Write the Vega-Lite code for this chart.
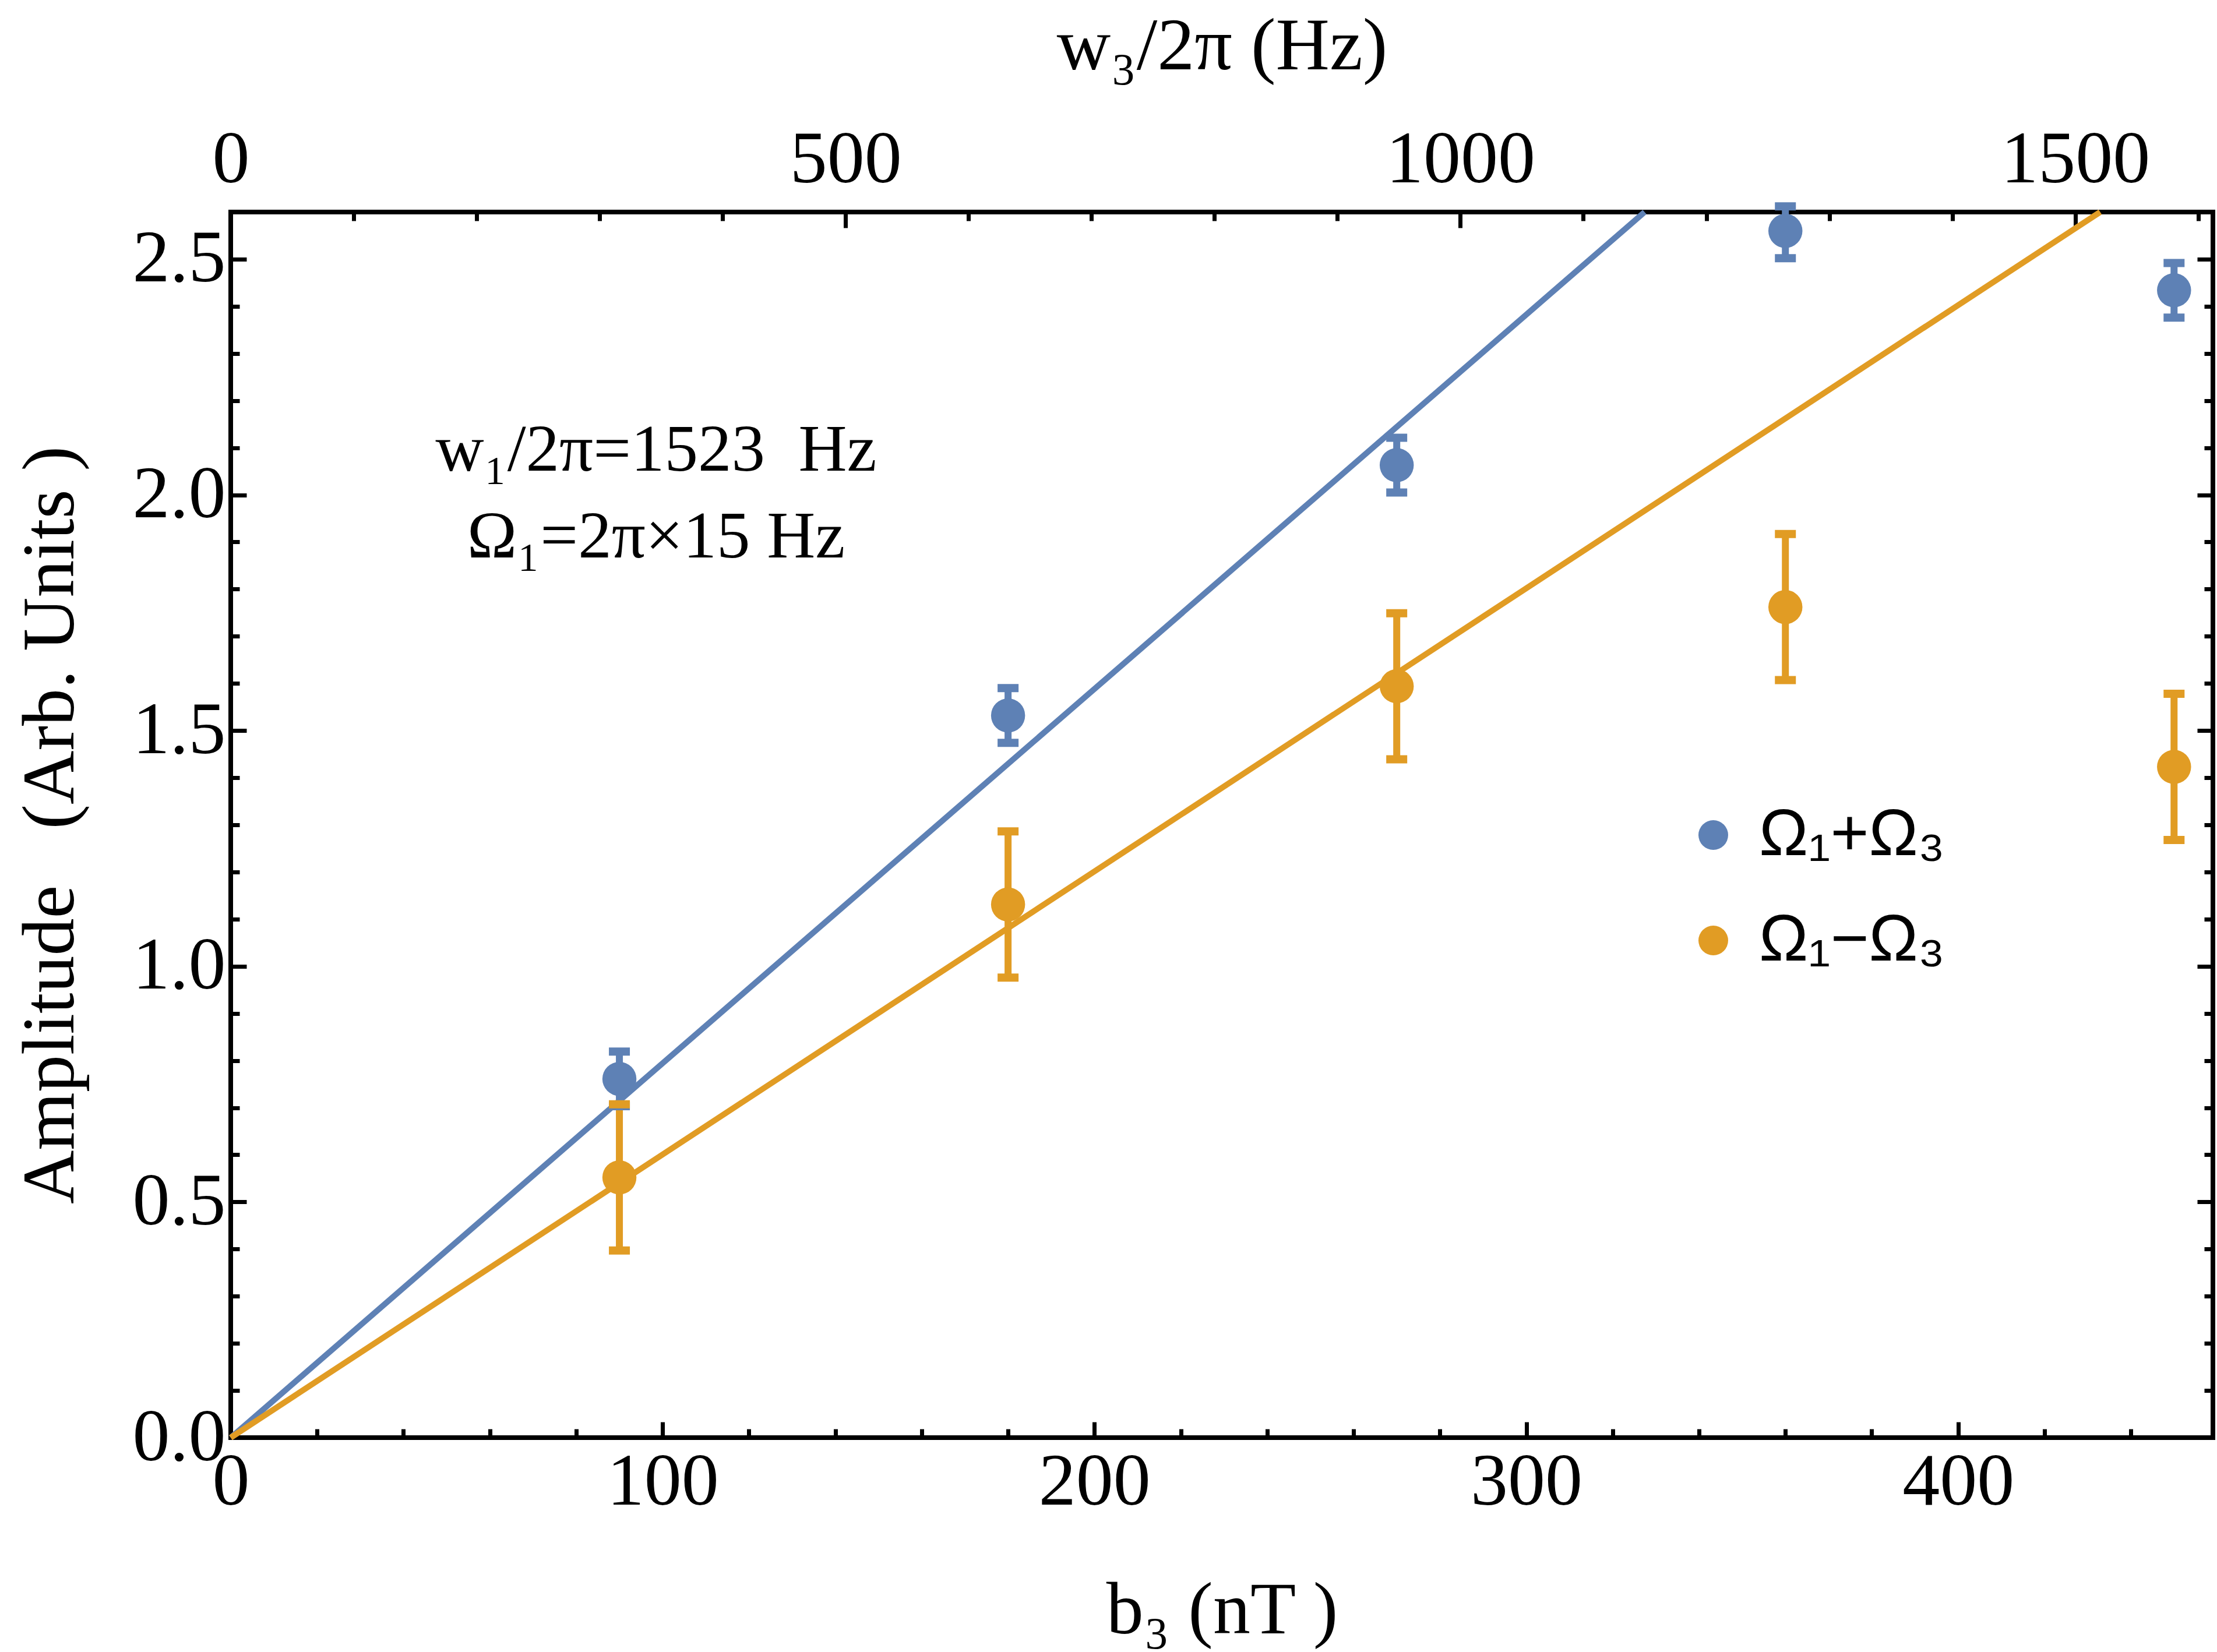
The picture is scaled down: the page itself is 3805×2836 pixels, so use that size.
{
  "$schema": "https://vega.github.io/schema/vega-lite/v6.json",
  "width": 3402,
  "height": 2104,
  "autosize": {"type": "none"},
  "padding": {"left": 396, "top": 364, "right": 7, "bottom": 368},
  "background": "white",
  "config": {
    "view": {"stroke": "black", "strokeWidth": 8},
    "axis": {
      "domain": false,
      "grid": false,
      "tickColor": "black",
      "tickWidth": 7,
      "labelFont": "Liberation Serif",
      "labelFontSize": 128,
      "labelColor": "black",
      "labelFlush": false,
      "labelOverlap": false,
      "labelLimit": 0,
      "titleFont": "Liberation Serif",
      "titleFontSize": 128,
      "titleFontWeight": "normal",
      "titleColor": "black",
      "titleLimit": 0
    },
    "legend": {"labelLimit": 0}
  },
  "datasets": {
    "points": [
      {"series": "Ω₁+Ω₃", "b3": 90, "amp": 0.761, "lo": 0.703, "hi": 0.819},
      {"series": "Ω₁+Ω₃", "b3": 180, "amp": 1.532, "lo": 1.474, "hi": 1.590},
      {"series": "Ω₁+Ω₃", "b3": 270, "amp": 2.063, "lo": 2.005, "hi": 2.121},
      {"series": "Ω₁+Ω₃", "b3": 360, "amp": 2.560, "lo": 2.502, "hi": 2.612},
      {"series": "Ω₁+Ω₃", "b3": 450, "amp": 2.434, "lo": 2.376, "hi": 2.492},
      {"series": "Ω₁−Ω₃", "b3": 90, "amp": 0.552, "lo": 0.397, "hi": 0.707},
      {"series": "Ω₁−Ω₃", "b3": 180, "amp": 1.131, "lo": 0.976, "hi": 1.286},
      {"series": "Ω₁−Ω₃", "b3": 270, "amp": 1.594, "lo": 1.439, "hi": 1.749},
      {"series": "Ω₁−Ω₃", "b3": 360, "amp": 1.762, "lo": 1.607, "hi": 1.917},
      {"series": "Ω₁−Ω₃", "b3": 450, "amp": 1.423, "lo": 1.268, "hi": 1.578}
    ],
    "fits": [
      {"series": "Ω₁+Ω₃", "b3": 0, "amp": 0},
      {"series": "Ω₁+Ω₃", "b3": 327.4, "amp": 2.6},
      {"series": "Ω₁−Ω₃", "b3": 0, "amp": 0},
      {"series": "Ω₁−Ω₃", "b3": 432.9, "amp": 2.6}
    ],
    "notes": [
      {"line": "w₁/2π=1523\u00a0 Hz", "b3": 98.5, "amp": 2.051},
      {"line": "Ω₁=2π×15 Hz", "b3": 98.5, "amp": 1.867}
    ],
    "hz": [
      {"w3": 0, "amp": 0},
      {"w3": 1612, "amp": 0}
    ]
  },
  "layer": [
    {
      "encoding": {
        "x": {
          "field": "b3",
          "type": "quantitative",
          "scale": {"domain": [0, 459], "nice": false, "zero": false},
          "axis": {
            "orient": "bottom",
            "values": [0, 20, 40, 60, 80, 100, 120, 140, 160, 180, 200, 220, 240, 260, 280, 300, 320, 340, 360, 380, 400, 420, 440],
            "format": "d",
            "labelExpr": "datum.value % 100 === 0 ? datum.label : ''",
            "tickSize": {"condition": {"test": "datum.value % 100 === 0", "value": -27}, "value": -15},
            "labelPadding": 40,
            "title": "b₃ (nT )",
            "titleY": 335,
            "titleBaseline": "alphabetic"
          }
        },
        "y": {
          "field": "amp",
          "type": "quantitative",
          "scale": {"domain": [0, 2.6], "nice": false},
          "axis": {
            "orient": "left",
            "values": [0, 0.1, 0.2, 0.3, 0.4, 0.5, 0.6, 0.7, 0.8, 0.9, 1, 1.1, 1.2, 1.3, 1.4, 1.5, 1.6, 1.7, 1.8, 1.9, 2, 2.1, 2.2, 2.3, 2.4, 2.5, 2.6],
            "format": ".1f",
            "labelExpr": "round(datum.value * 10) % 5 === 0 ? datum.label : ''",
            "tickSize": {"condition": {"test": "round(datum.value * 10) % 5 === 0", "value": -27}, "value": -15},
            "labelPadding": 36,
            "title": "Amplitude\u00a0\u00a0 (Arb. Units )",
            "titleX": -271,
            "titleAlign": "center",
            "titleBaseline": "alphabetic"
          }
        }
      },
      "layer": [
        {
          "data": {"name": "fits"},
          "mark": {"type": "line", "strokeWidth": 10},
          "encoding": {
            "color": {
              "field": "series",
              "type": "nominal",
              "scale": {"domain": ["Ω₁+Ω₃", "Ω₁−Ω₃"], "range": ["#5E81B5", "#E19C24"]},
              "legend": null
            }
          }
        },
        {
          "data": {"name": "points"},
          "mark": {"type": "rule", "strokeWidth": 12},
          "encoding": {
            "y": {"field": "lo", "type": "quantitative", "title": "Amplitude\u00a0\u00a0 (Arb. Units )"},
            "y2": {"field": "hi"},
            "color": {"field": "series", "type": "nominal", "legend": null}
          }
        },
        {
          "data": {"name": "points"},
          "mark": {"type": "tick", "orient": "horizontal", "size": 36, "thickness": 14, "opacity": 1},
          "encoding": {
            "y": {"field": "lo", "type": "quantitative", "title": "Amplitude\u00a0\u00a0 (Arb. Units )"},
            "color": {"field": "series", "type": "nominal", "legend": null}
          }
        },
        {
          "data": {"name": "points"},
          "mark": {"type": "tick", "orient": "horizontal", "size": 36, "thickness": 14, "opacity": 1},
          "encoding": {
            "y": {"field": "hi", "type": "quantitative", "title": "Amplitude\u00a0\u00a0 (Arb. Units )"},
            "color": {"field": "series", "type": "nominal", "legend": null}
          }
        },
        {
          "data": {"name": "points"},
          "mark": {"type": "circle", "size": 3421, "opacity": 1},
          "encoding": {
            "color": {
              "field": "series",
              "type": "nominal",
              "legend": {
                "title": null,
                "orient": "none",
                "legendX": 2488,
                "legendY": 1013,
                "padding": 0,
                "symbolType": "circle",
                "symbolSize": 2600,
                "symbolStrokeWidth": 0,
                "symbolOpacity": 1,
                "labelFont": "Liberation Sans",
                "labelFontSize": 113,
                "labelColor": "black",
                "labelOffset": 22,
                "labelLimit": 0,
                "rowPadding": 67
              }
            }
          }
        },
        {
          "data": {"name": "notes"},
          "mark": {
            "type": "text",
            "font": "Liberation Serif",
            "fontSize": 115,
            "align": "center",
            "baseline": "alphabetic",
            "color": "black"
          },
          "encoding": {
            "text": {"field": "line", "type": "nominal"}
          }
        }
      ],
      "resolve": {"legend": {"color": "independent"}}
    },
    {
      "data": {"name": "hz"},
      "mark": {"type": "point", "opacity": 0},
      "encoding": {
        "x": {
          "field": "w3",
          "type": "quantitative",
          "scale": {"domain": [0, 1612], "nice": false, "zero": false},
          "axis": {
            "orient": "top",
            "values": [0, 100, 200, 300, 400, 500, 600, 700, 800, 900, 1000, 1100, 1200, 1300, 1400, 1500, 1600],
            "format": "d",
            "labelExpr": "datum.value % 500 === 0 ? datum.label : ''",
            "tickSize": {"condition": {"test": "datum.value % 500 === 0", "value": -27}, "value": -15},
            "labelPadding": 52,
            "title": "w₃/2π (Hz)",
            "titleY": -246,
            "titleBaseline": "alphabetic"
          }
        },
        "y": {
          "field": "amp",
          "type": "quantitative",
          "scale": {"domain": [0, 2.6], "nice": false},
          "axis": {
            "orient": "right",
            "values": [0, 0.1, 0.2, 0.3, 0.4, 0.5, 0.6, 0.7, 0.8, 0.9, 1, 1.1, 1.2, 1.3, 1.4, 1.5, 1.6, 1.7, 1.8, 1.9, 2, 2.1, 2.2, 2.3, 2.4, 2.5, 2.6],
            "labels": false,
            "tickSize": {"condition": {"test": "round(datum.value * 10) % 5 === 0", "value": -27}, "value": -15},
            "title": null
          }
        }
      }
    }
  ],
  "resolve": {
    "scale": {"x": "independent"},
    "axis": {"x": "independent", "y": "independent"}
  }
}
